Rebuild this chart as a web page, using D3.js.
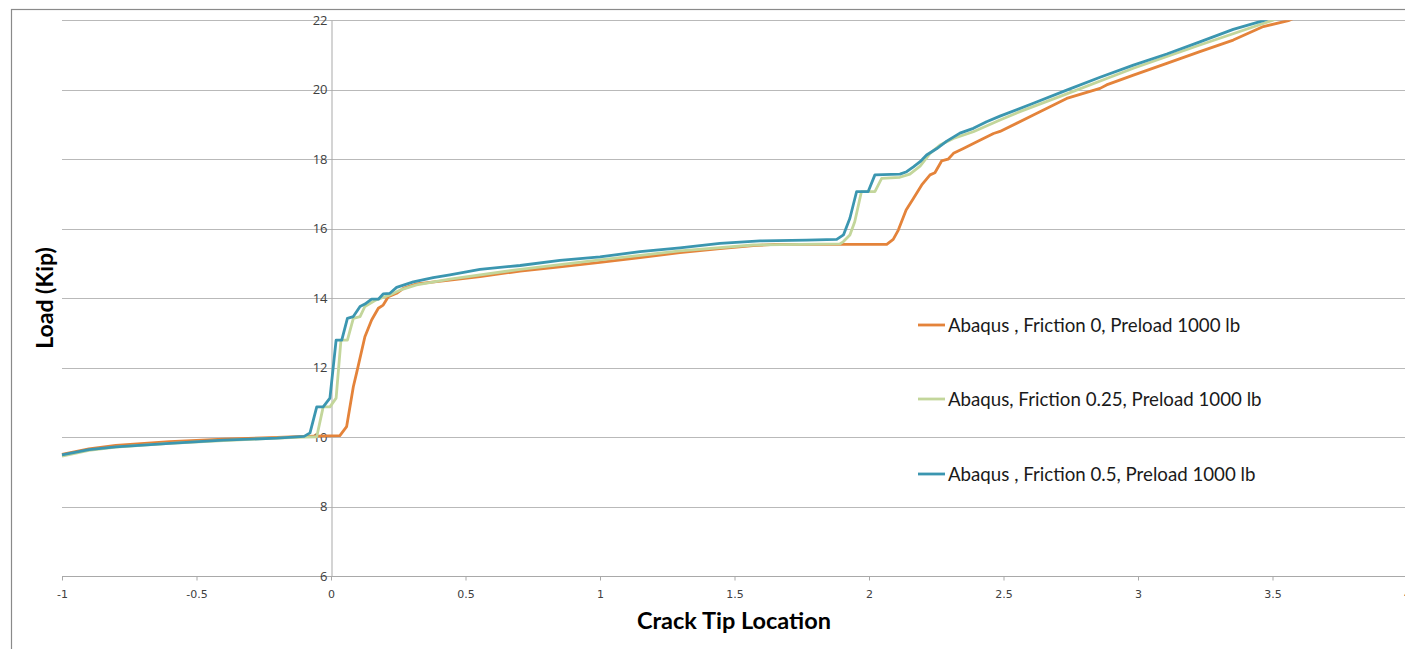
<!DOCTYPE html>
<html>
<head>
<meta charset="utf-8">
<script src="https://cdn.jsdelivr.net/npm/d3@7"></script>
<style>
  html, body { margin: 0; padding: 0; background: #fff; }
  svg { display: block; }
</style>
</head>
<body>
<svg id="chart" width="1405" height="649"></svg>
<script>
// ---- Data ----
const seriesNames = [
  "Abaqus , Friction 0, Preload 1000 lb",
  "Abaqus, Friction 0.25, Preload 1000 lb",
  "Abaqus , Friction 0.5, Preload 1000 lb"
];
const seriesColors = ["#E4833A", "#C3D69B", "#3B96B0"];

const xFriction0 = [-1, -0.9, -0.8, -0.6, -0.4, -0.2, -0.1, 0.033, 0.058, 0.083, 0.095, 0.126, 0.151, 0.176, 0.194, 0.213, 0.244, 0.269, 0.319, 0.442, 0.554, 0.703, 0.851, 1.0, 1.149, 1.297, 1.446, 1.570, 1.65, 2.066, 2.090, 2.109, 2.138, 2.165, 2.196, 2.227, 2.245, 2.270, 2.294, 2.314, 2.351, 2.401, 2.463, 2.487, 2.611, 2.735, 2.859, 2.883, 2.983, 3.107, 3.230, 3.354, 3.466, 3.559, 3.62];
const yFriction0 = [9.5, 9.66, 9.76, 9.87, 9.94, 9.99, 10.02, 10.04, 10.30, 11.45, 11.84, 12.89, 13.37, 13.71, 13.80, 14.04, 14.14, 14.28, 14.41, 14.52, 14.62, 14.78, 14.90, 15.03, 15.17, 15.31, 15.43, 15.51, 15.55, 15.55, 15.69, 15.96, 16.54, 16.87, 17.26, 17.55, 17.61, 17.95, 18.0, 18.17, 18.31, 18.50, 18.74, 18.80, 19.27, 19.75, 20.04, 20.14, 20.42, 20.76, 21.10, 21.43, 21.82, 21.99, 22.2];

const xFriction025 = [-1, -0.9, -0.8, -0.6, -0.4, -0.2, -0.1, -0.053, -0.029, -0.004, 0.019, 0.037, 0.061, 0.083, 0.108, 0.126, 0.168, 0.219, 0.256, 0.318, 0.442, 0.703, 1.0, 1.297, 1.570, 1.892, 1.905, 1.929, 1.947, 1.972, 2.022, 2.047, 2.115, 2.152, 2.190, 2.227, 2.264, 2.314, 2.388, 2.487, 2.561, 2.735, 2.983, 3.230, 3.497, 3.55];
const yFriction025 = [9.45, 9.62, 9.71, 9.82, 9.90, 9.97, 10.0, 10.01, 10.87, 10.87, 11.12, 12.79, 12.79, 13.42, 13.47, 13.76, 13.95, 14.09, 14.23, 14.38, 14.55, 14.83, 15.10, 15.36, 15.53, 15.56, 15.63, 15.82, 16.20, 17.07, 17.07, 17.45, 17.48, 17.57, 17.80, 18.17, 18.41, 18.60, 18.79, 19.13, 19.37, 19.88, 20.62, 21.29, 21.99, 22.15];

const xFriction05 = [-1, -0.9, -0.8, -0.6, -0.4, -0.2, -0.1, -0.078, -0.053, -0.029, -0.004, 0.019, 0.040, 0.061, 0.083, 0.108, 0.126, 0.151, 0.176, 0.194, 0.219, 0.244, 0.306, 0.380, 0.442, 0.554, 0.703, 0.851, 1.0, 1.149, 1.297, 1.446, 1.595, 1.768, 1.880, 1.905, 1.929, 1.954, 1.997, 2.022, 2.115, 2.140, 2.165, 2.190, 2.214, 2.251, 2.289, 2.338, 2.388, 2.437, 2.487, 2.611, 2.735, 2.859, 2.983, 3.107, 3.230, 3.354, 3.466, 3.53];
const yFriction05 = [9.49, 9.64, 9.72, 9.82, 9.91, 9.97, 10.02, 10.12, 10.87, 10.87, 11.12, 12.79, 12.79, 13.42, 13.47, 13.76, 13.83, 13.97, 13.97, 14.12, 14.14, 14.31, 14.47, 14.59, 14.67, 14.83, 14.94, 15.09, 15.19, 15.34, 15.45, 15.58, 15.65, 15.67, 15.69, 15.82, 16.30, 17.07, 17.07, 17.55, 17.57, 17.64, 17.78, 17.93, 18.12, 18.30, 18.52, 18.75, 18.89, 19.08, 19.24, 19.61, 19.99, 20.36, 20.71, 21.03, 21.38, 21.74, 21.99, 22.2];

const xTicks = [-1, -0.5, 0, 0.5, 1, 1.5, 2, 2.5, 3, 3.5, 4];
const yTicks = [6, 8, 10, 12, 14, 16, 18, 20, 22];
const xTitle = "Crack Tip Location";
const yTitle = "Load (Kip)";

// ---- Build series ----
const series = [
  { name: seriesNames[0], color: seriesColors[0], pts: xFriction0.map((x, i) => [x, yFriction0[i]]) },
  { name: seriesNames[1], color: seriesColors[1], pts: xFriction025.map((x, i) => [x, yFriction025[i]]) },
  { name: seriesNames[2], color: seriesColors[2], pts: xFriction05.map((x, i) => [x, yFriction05[i]]) }
];

// ---- Layout ----
const W = 1405, H = 649;
const plot = { left: 62, right: 1407, top: 20.3, bottom: 576 };
const svg = d3.select("#chart");
const fontFamily = "Lato, 'Open Sans', 'Liberation Sans', sans-serif";

const x = d3.scaleLinear().domain([-1, 4]).range([plot.left, plot.right]);
const y = d3.scaleLinear().domain([6, 22]).range([plot.bottom, plot.top]);

// Outer frame
svg.append("rect")
  .attr("x", 11.5).attr("y", 9.5)
  .attr("width", W + 10).attr("height", H + 10)
  .attr("fill", "#fff").attr("stroke", "#8a8a8a").attr("stroke-width", 1.2);

// Horizontal gridlines
svg.append("g").selectAll("line").data(yTicks.filter(d => d !== 6)).join("line")
  .attr("x1", plot.left).attr("x2", W)
  .attr("y1", d => Math.round(y(d)) + 0.5).attr("y2", d => Math.round(y(d)) + 0.5)
  .attr("stroke", "#b9b9b9").attr("stroke-width", 1);

// X axis (at y = 6)
const xAxis = d3.axisBottom(x).tickValues(xTicks).tickSize(4).tickSizeOuter(0)
  .tickFormat(d => String(d));
const gx = svg.append("g").attr("transform", `translate(0,${Math.round(plot.bottom) + 0.5})`).call(xAxis);
gx.select(".domain").attr("stroke", "#a9a9a9").attr("d", `M${plot.left},0H${W}`);
gx.selectAll(".tick line").attr("stroke", "#a9a9a9");
gx.selectAll(".tick text").attr("fill", "#404040").attr("font-size", 11)
  .attr("font-family", "'DejaVu Sans', sans-serif").attr("dy", "1.35em");

// Y axis line at x = 0
const yAxis = d3.axisLeft(y).tickValues(yTicks).tickSize(0).tickPadding(6).tickFormat(d => String(d));
const gy = svg.append("g").attr("transform", `translate(${Math.round(x(0)) + 0.5},0)`).call(yAxis);
gy.select(".domain").attr("stroke", "#a9a9a9");
gy.selectAll(".tick text").attr("fill", "#404040").attr("font-size", 13)
  .attr("font-family", "'Open Sans', sans-serif").attr("x", -4);

// Clip for series
svg.append("clipPath").attr("id", "plotclip").append("rect")
  .attr("x", plot.left - 2).attr("y", plot.top).attr("width", W).attr("height", plot.bottom - plot.top);

const line = d3.line().x(d => x(d[0])).y(d => y(d[1]));
svg.append("g").attr("clip-path", "url(#plotclip)")
  .selectAll("path").data(series).join("path")
  .attr("d", d => line(d.pts))
  .attr("fill", "none")
  .attr("stroke", d => d.color)
  .attr("stroke-width", 2.8)
  .attr("stroke-linejoin", "round");

// Legend
const legendY = [325, 399, 474];
const lg = svg.append("g").selectAll("g").data(series).join("g")
  .attr("transform", (d, i) => `translate(918,${legendY[i]})`);
lg.append("line").attr("x1", 0).attr("x2", 27).attr("y1", 0).attr("y2", 0)
  .attr("stroke", d => d.color).attr("stroke-width", 2.8);
lg.append("text").attr("x", 30).attr("y", 0).attr("dy", "0.35em")
  .attr("font-family", fontFamily).attr("font-size", 18.7).attr("fill", "#1a1a1a")
  .text(d => d.name);

// Axis titles
svg.append("text").attr("x", 734).attr("y", 621).attr("dy", "0.35em")
  .attr("text-anchor", "middle").attr("font-family", fontFamily).attr("font-weight", "bold")
  .attr("font-size", 23.5).attr("fill", "#000").text(xTitle);
svg.append("text").attr("transform", "translate(45,298) rotate(-90)").attr("dy", "0.35em")
  .attr("text-anchor", "middle").attr("font-family", fontFamily).attr("font-weight", "bold")
  .attr("font-size", 23).attr("fill", "#000").text(yTitle);
</script>
</body>
</html>
